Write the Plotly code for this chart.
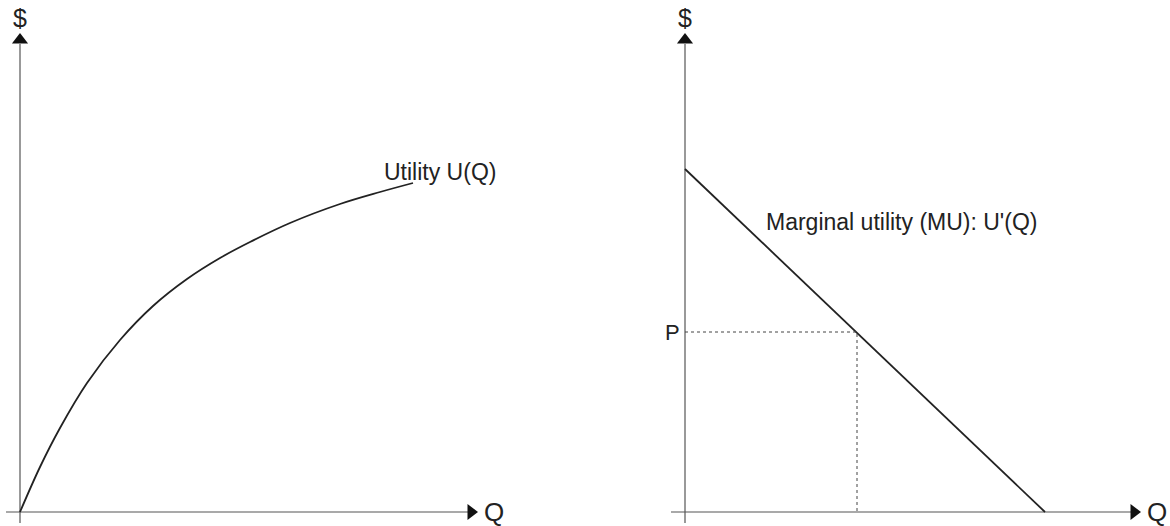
import plotly.graph_objects as go
from plotly.subplots import make_subplots

# utility curve U(Q)
util_q = [0, 20, 40, 67, 100, 133, 167, 200, 230, 270, 320, 360, 393]
util_u = [0, 45, 84, 129, 172, 206, 233, 254, 270, 289, 308, 320, 329]

# marginal utility line U'(Q)
mu_q = [0, 360]
mu_u = [343, 0]

# price level and the quantity it picks out
price_p = 180
price_q = 172

AXIS = "#555"
INK = "#222"
FONT = "Liberation Sans, Arial, sans-serif"

fig = make_subplots(rows=1, cols=2, horizontal_spacing=0)

panels = [
    dict(col=1, xr=[-20, 565], x_end=457, lab="Utility U(Q)", lab_xy=(420, 340)),
    dict(col=2, xr=[-100, 485], x_end=455, lab="Marginal utility (MU): U'(Q)", lab_xy=(216, 290)),
]

for p in panels:
    c = p["col"]
    # axes as lines with triangle arrowheads
    fig.add_trace(go.Scatter(x=[0, 0], y=[-11, 468], mode="lines",
                             line=dict(color=AXIS, width=1.2), hoverinfo="skip"), row=1, col=c)
    fig.add_trace(go.Scatter(x=[-14, p["x_end"] - 8], y=[0, 0], mode="lines",
                             line=dict(color=AXIS, width=1.2), hoverinfo="skip"), row=1, col=c)
    fig.add_trace(go.Scatter(x=[0], y=[472], mode="markers",
                             marker=dict(symbol="triangle-up", size=14, color="#111"),
                             hoverinfo="skip"), row=1, col=c)
    fig.add_trace(go.Scatter(x=[p["x_end"] - 6], y=[0], mode="markers",
                             marker=dict(symbol="triangle-right", size=14, color="#111"),
                             hoverinfo="skip"), row=1, col=c)
    fig.add_annotation(x=0, y=494, text="$", showarrow=False,
                       font=dict(size=25, color="#222"), row=1, col=c)
    fig.add_annotation(x=p["x_end"] + 17, y=0, text="Q", showarrow=False,
                       font=dict(size=26, color="#222"), row=1, col=c)
    fig.add_annotation(x=p["lab_xy"][0], y=p["lab_xy"][1], text=p["lab"], showarrow=False,
                       font=dict(size=23, color="#222"), row=1, col=c)
    fig.update_xaxes(range=p["xr"], visible=False, row=1, col=c)
    fig.update_yaxes(range=[-14, 512], visible=False, row=1, col=c)

fig.add_trace(go.Scatter(x=util_q, y=util_u, mode="lines", line=dict(color=INK, width=1.8, shape="spline"),
                         hoverinfo="skip"), row=1, col=1)
fig.add_trace(go.Scatter(x=mu_q, y=mu_u, mode="lines", line=dict(color=INK, width=1.8),
                         hoverinfo="skip"), row=1, col=2)
# dotted guides to P and the chosen quantity
fig.add_trace(go.Scatter(x=[0, price_q, price_q], y=[price_p, price_p, 0], mode="lines",
                         line=dict(color="#444", width=1, dash="dot"), hoverinfo="skip"), row=1, col=2)
fig.add_annotation(x=-13, y=price_p, text="P", showarrow=False,
                   font=dict(size=22, color="#222"), row=1, col=2)

fig.update_layout(width=1170, height=526, margin=dict(l=0, r=0, t=0, b=0),
                  showlegend=False, plot_bgcolor="white", paper_bgcolor="white",
                  font=dict(family=FONT))
fig.write_html("out.html", config={"displayModeBar": False},
               post_script="document.body.style.margin='0';")
